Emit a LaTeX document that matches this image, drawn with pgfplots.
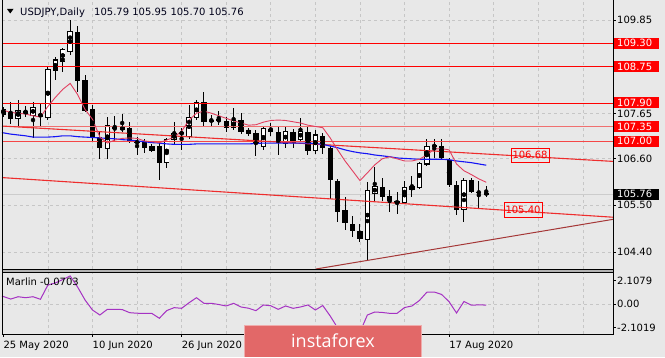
\documentclass[border=0pt]{standalone}
\usepackage{pgfplots}
\pgfplotsset{compat=1.18}
\usepackage{pgfplotstable}
\usepackage{fontspec}
\setmainfont{DejaVu Sans}
\newfontfamily\logofont{Open Sans}
\definecolor{bg}{RGB}{232,232,232}
\definecolor{mared}{RGB}{226,64,96}
\definecolor{mablue}{RGB}{20,20,245}
\definecolor{salmon}{RGB}{240,112,112}
\definecolor{lvl}{RGB}{245,70,70}
\definecolor{trendred}{RGB}{238,45,45}
\definecolor{risered}{RGB}{165,55,55}
\definecolor{marlin}{RGB}{165,50,195}
\definecolor{logored}{RGB}{226,104,104}
\pgfmathdeclarefunction{PX}{1}{\pgfmathparse{2+(#1+0.175)*7.42993}}
\pgfmathdeclarefunction{PY}{1}{\pgfmathparse{88+(#1-104.005)*42.619}}
\pgfmathdeclarefunction{PV}{1}{\pgfmathparse{23+(#1+2.661)*11.161}}

\pgfplotstableread{
i o h l c
0 107.64 107.80 107.58 107.75
2 107.54 107.96 107.36 107.72
4 107.61 107.92 107.08 107.80
6 107.57 108.77 107.51 108.68
7 108.66 108.99 108.43 108.91
8 108.87 109.20 108.64 109.16
9 109.12 109.84 109.03 109.57
14 106.84 107.57 106.58 107.38
20 106.78 106.93 106.74 106.89
22 106.50 107.09 106.37 107.05
23 107.05 107.45 106.93 107.18
24 107.18 107.32 106.80 107.20
25 107.12 107.86 107.05 107.57
26 107.57 107.98 107.51 107.90
29 107.48 107.71 107.38 107.51
31 107.32 107.78 107.26 107.49
35 106.89 107.36 106.80 107.30
38 106.96 107.36 106.84 107.24
40 107.05 107.55 106.99 107.24
42 106.78 107.26 106.70 107.15
49 104.70 106.05 104.21 105.84
50 105.77 106.39 105.61 105.94
54 105.57 106.08 105.55 105.91
55 105.87 106.19 105.70 105.94
56 105.92 106.52 105.88 106.48
57 106.47 107.05 106.43 106.89
62 105.41 106.14 105.11 106.09
}\bull

\pgfplotstableread{
i o h l c
1 107.69 107.92 107.42 107.53
3 107.72 107.82 107.57 107.64
5 107.65 107.87 107.36 107.57
10 109.57 109.71 108.17 108.41
11 108.43 108.55 107.70 107.72
12 107.75 107.86 107.01 107.10
13 107.10 107.23 106.58 106.84
15 107.37 107.59 107.01 107.30
16 107.33 107.65 107.21 107.27
17 107.32 107.45 106.97 107.01
18 107.01 107.10 106.68 106.95
19 106.99 107.05 106.73 106.84
21 106.89 106.99 106.09 106.50
27 107.92 108.17 107.36 107.46
28 107.50 107.63 107.36 107.47
30 107.47 107.58 107.21 107.32
32 107.51 107.67 107.18 107.23
33 107.26 107.32 107.13 107.18
34 107.20 107.26 106.66 106.93
36 107.30 107.43 107.13 107.23
37 107.23 107.36 106.68 106.96
39 107.23 107.30 106.85 106.96
41 107.23 107.36 106.68 106.78
43 107.13 107.20 106.71 106.84
44 106.84 106.89 105.65 106.09
45 106.08 106.12 105.11 105.34
46 105.38 105.69 104.91 105.08
47 105.07 105.26 104.76 104.90
48 104.90 105.07 104.64 104.72
51 105.94 106.14 105.61 105.70
52 105.73 105.86 105.34 105.61
53 105.59 105.81 105.30 105.56
58 106.92 107.05 106.62 106.87
59 106.89 107.05 106.56 106.61
60 106.56 106.61 105.92 105.98
61 105.98 106.08 105.28 105.39
63 106.09 106.14 105.78 105.81
64 105.82 106.06 105.42 105.79
65 105.79 105.95 105.70 105.76
}\bear

\pgfplotstableread{
i v
-1 107.76
0 107.73
1 107.68
2 107.66
3 107.64
4 107.60
5 107.57
6 107.82
7 108.03
8 108.22
9 108.36
10 108.10
11 107.75
12 107.52
13 107.10
14 106.96
15 107.03
16 107.07
17 107.08
18 107.07
19 107.01
20 106.99
21 106.97
22 107.03
23 107.10
24 107.24
25 107.50
26 107.66
27 107.71
28 107.66
29 107.60
30 107.54
31 107.48
32 107.43
33 107.38
34 107.39
35 107.45
36 107.49
37 107.50
38 107.49
39 107.46
40 107.43
41 107.38
42 107.35
43 107.32
44 107.08
45 106.80
46 106.54
47 106.31
48 106.08
49 106.26
50 106.45
51 106.59
52 106.64
53 106.59
54 106.54
55 106.54
56 106.58
57 106.68
58 106.82
59 106.83
60 106.80
61 106.47
62 106.31
63 106.22
64 106.12
65 106.04
}\redma

\pgfplotstableread{
i v
-1 107.22
0 107.20
1 107.17
2 107.15
3 107.13
4 107.10
5 107.10
6 107.10
7 107.11
8 107.13
9 107.13
10 107.11
11 107.10
12 107.09
13 107.08
14 107.07
15 107.06
16 107.04
17 107.03
18 107.01
19 106.99
20 106.97
21 106.96
22 106.94
23 106.93
24 106.93
25 106.93
26 106.94
27 106.94
28 106.94
29 106.94
30 106.94
31 106.94
32 106.94
33 106.94
34 106.95
35 106.96
36 106.96
37 106.96
38 106.96
39 106.96
40 106.96
41 106.96
42 106.95
43 106.93
44 106.89
45 106.85
46 106.80
47 106.76
48 106.73
49 106.71
50 106.68
51 106.66
52 106.64
53 106.61
54 106.60
55 106.59
56 106.58
57 106.58
58 106.58
59 106.58
60 106.57
61 106.54
62 106.52
63 106.50
64 106.47
65 106.44
}\bluema

\pgfplotstableread{
i v
-1 0.75
0 0.70
1 0.47
2 0.68
3 0.59
4 0.68
5 0.45
6 1.73
7 1.91
8 2.22
9 2.54
10 1.55
11 0.39
12 -0.51
13 -0.96
14 -0.45
15 -0.45
16 -0.47
17 -0.75
18 -0.80
19 -0.81
20 -0.82
21 -1.25
22 -0.56
23 -0.30
24 -0.36
25 0.14
26 0.59
27 0.09
28 0.09
29 -0.02
30 -0.15
31 0.09
32 -0.24
33 -0.35
34 -0.57
35 -0.06
36 -0.13
37 -0.45
38 -0.15
39 -0.36
40 -0.24
41 -0.06
42 -0.51
43 -0.11
44 -1.05
45 -2.12
46 -2.45
47 -2.60
48 -2.50
49 -0.96
50 -0.69
51 -0.73
52 -0.81
53 -0.81
54 -0.29
55 -0.15
56 0.34
57 1.08
58 1.10
59 0.88
60 0.23
61 -0.78
62 0.25
63 -0.08
64 -0.05
65 -0.07
}\marlindata

\begin{document}
\begin{tikzpicture}[x=1pt,y=1pt]
\useasboundingbox (0,0) rectangle (665,357);
\fill[bg] (0,0) rectangle (665,357);

% ---------- main price panel ----------
\begin{axis}[
  at={(2pt,88pt)}, anchor=south west,
  width=611pt, height=269pt, scale only axis,
  xmin=-0.175, xmax=82.06, ymin=104.005, ymax=110.317,
  axis line style={draw=none},
  xtick={6,12,...,78}, xticklabels={},
  ytick={104.40,105.50,106.60,107.65,108.75,109.85}, yticklabels={},
  major tick length=0pt, tick style={draw=none},
  xmajorgrids, ymajorgrids,
  grid style={draw=gray!45, dash pattern=on 3pt off 3pt, line width=0.6pt},
]
% bid line
\addplot[gray!40, line width=0.8pt] coordinates {(-0.175,105.76) (82.06,105.76)};
% wicks
\addplot[only marks, mark=none, error bars/.cd, y dir=both, y explicit, error mark=none,
  error bar style={draw=black, line width=1pt}]
  table[x=i, y expr={(\thisrow{h}+\thisrow{l})/2}, y error expr={(\thisrow{h}-\thisrow{l})/2}] {\bull};
\addplot[only marks, mark=none, error bars/.cd, y dir=both, y explicit, error mark=none,
  error bar style={draw=black, line width=1pt}]
  table[x=i, y expr={(\thisrow{h}+\thisrow{l})/2}, y error expr={(\thisrow{h}-\thisrow{l})/2}] {\bear};
% bearish bodies
\addplot[only marks, mark=none, error bars/.cd, y dir=both, y explicit, error mark=none,
  error bar style={draw=black, line width=5.2pt}]
  table[x=i, y expr={(\thisrow{o}+\thisrow{c})/2}, y error expr={max(abs(\thisrow{o}-\thisrow{c})/2,0.013)}] {\bear};
% bullish bodies: outline then white fill
\addplot[only marks, mark=none, error bars/.cd, y dir=both, y explicit, error mark=none,
  error bar style={draw=black, line width=5.4pt}]
  table[x=i, y expr={(\thisrow{o}+\thisrow{c})/2}, y error expr={abs(\thisrow{o}-\thisrow{c})/2+0.012}] {\bull};
\addplot[only marks, mark=none, error bars/.cd, y dir=both, y explicit, error mark=none,
  error bar style={draw=white, line width=3.6pt}]
  table[x=i, y expr={(\thisrow{o}+\thisrow{c})/2}, y error expr={max(abs(\thisrow{o}-\thisrow{c})/2-0.012,0)}] {\bull};
% horizontal levels
\addplot[red, line width=1pt] coordinates {(-0.175,109.30) (82.06,109.30)};
\addplot[red, line width=1pt] coordinates {(-0.175,108.75) (82.06,108.75)};
\addplot[red, line width=1pt] coordinates {(-0.175,107.90) (82.06,107.90)};
\addplot[salmon, line width=1.8pt] coordinates {(-0.175,107.35) (82.06,107.35)};
\addplot[lvl, line width=1.3pt] coordinates {(-0.175,107.00) (82.06,107.00)};
% trend lines
\addplot[trendred, line width=1.1pt] coordinates {(-0.175,107.36) (82.06,106.53)};
\addplot[trendred, line width=1.1pt] coordinates {(-0.175,106.15) (82.06,105.22)};
\addplot[risered, line width=1pt] coordinates {(42.09,104.005) (82.06,105.17)};
% moving averages
\addplot[mablue, line width=1.1pt] table[x=i, y=v] {\bluema};
\addplot[mared, line width=0.9pt] table[x=i, y=v] {\redma};
\end{axis}

% ---------- indicator panel ----------
\begin{axis}[
  at={(2pt,23pt)}, anchor=south west,
  width=611pt, height=62pt, scale only axis,
  xmin=-0.175, xmax=82.06, ymin=-2.661, ymax=2.894,
  axis line style={draw=none},
  xtick={6,12,...,78}, xticklabels={},
  ytick={0}, yticklabels={},
  major tick length=0pt, tick style={draw=none},
  xmajorgrids, ymajorgrids,
  grid style={draw=gray!45, dash pattern=on 3pt off 3pt, line width=0.6pt},
]
\addplot[marlin, line width=1pt] table[x=i, y=v] {\marlindata};
\end{axis}

% ---------- frames ----------
\fill[gray!60] (2,85) rectangle (613,88);
\draw[black, line width=0.7pt] (2,88) -- (613,88);
\draw[black, line width=0.7pt] (2,85) -- (613,85);
\draw[black, line width=0.8pt] (2,357) -- (2,23) -- (613,23) -- (613,357);

% title
\fill[black] (7,348) -- (13.5,348) -- (10.25,343.5) -- cycle;
\node[anchor=base west, inner sep=0pt, text=black!90!blue] at (20,341) {USDJPY,Daily};
\node[anchor=base west, inner sep=0pt, text=black!90!blue] at (94,341) {105.79 105.95 105.70 105.76};

% right price scale
\foreach \p in {109.85,107.65,106.60,105.50,104.40} {
  \draw[black, line width=0.6pt] (613,{PY(\p)}) -- (616,{PY(\p)});
  \node[anchor=west, inner sep=0pt] at (617,{PY(\p)}) {\p};
}
\foreach \p in {109.30,108.75,107.90,107.35,107.00} {
  \fill[red] (614,{PY(\p)-5.5}) rectangle (659,{PY(\p)+5.5});
  \node[anchor=west, inner sep=0pt, text=white] at (617,{PY(\p)}) {\p};
}
\fill[black] (614,{PY(105.76)-5.5}) rectangle (659,{PY(105.76)+5.5});
\node[anchor=west, inner sep=0pt, text=white] at (617,{PY(105.76)}) {105.76};

% labels on trend lines
\draw[red, line width=0.8pt] (511,195) rectangle (549,209);
\node[text=red, inner sep=0pt] at (530,202) {106.68};
\draw[red, line width=0.8pt] (504,140) rectangle (542,155);
\node[text=red, inner sep=0pt] at (523,147.5) {105.40};

% indicator labels
\node[anchor=base west, inner sep=0pt] at (6,72) {Marlin -0.0703};
\foreach \v/\t in {2.1079/2.1079, 0/0.00, -2.1019/-2.1019} {
  \draw[black, line width=0.6pt] (613,{PV(\v)}) -- (616,{PV(\v)});
  \node[anchor=west, inner sep=0pt] at (617,{PV(\v)}) {\t};
}

% date labels
\foreach \k/\t in {0/25 May 2020, 12/10 Jun 2020, 24/26 Jun 2020, 60/17 Aug 2020} {
  \draw[black, line width=0.6pt] ({PX(\k)},23) -- ({PX(\k)},20);
  \node[anchor=base west, inner sep=0pt] at ({PX(\k)},8.3) {\t};
}

% logo
\fill[logored] (244,0) rectangle (422,32);
\draw[logored!55!white, line width=1pt] (244.5,0) -- (244.5,31.5) -- (421.5,31.5) -- (421.5,0);
\node[text=white, inner sep=0pt, font=\logofont\fontsize{18}{20}\selectfont] at (333,16) {instaforex};
\end{tikzpicture}
\end{document}
